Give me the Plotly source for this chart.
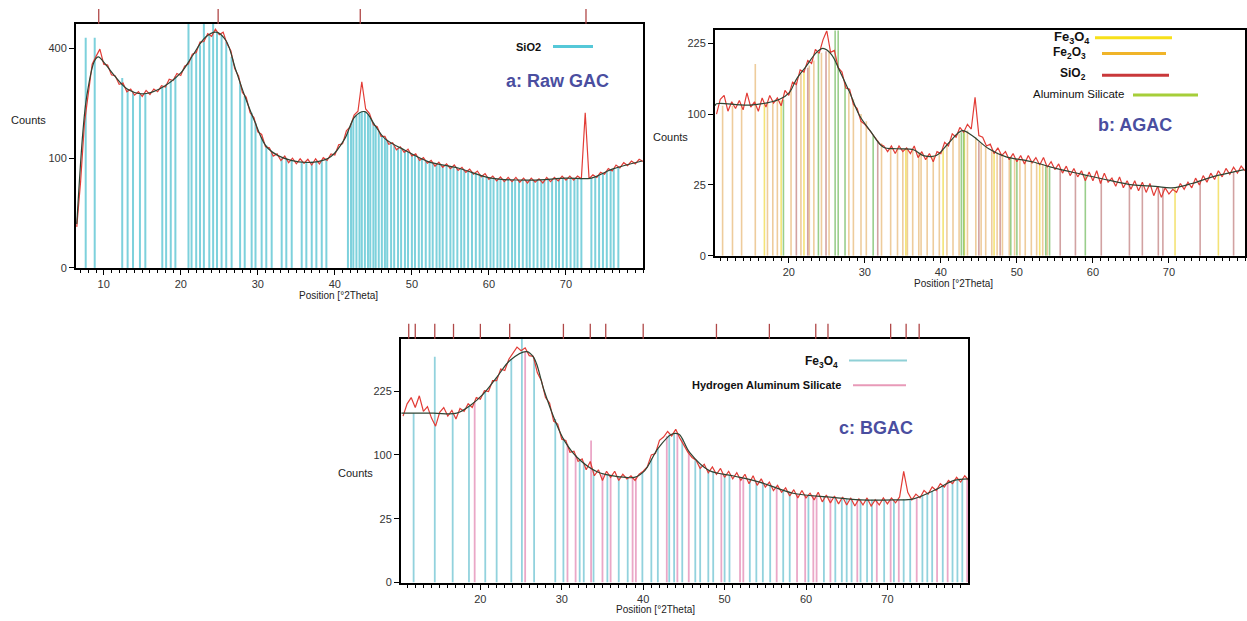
import numpy as np
import plotly.graph_objects as go

W, H = 1247, 621

# ---------------- a: Raw GAC ----------------
a_two_theta = np.arange(6.5, 80.01, 0.5)
a_counts = [14, 62, 175, 258, 345, 372, 398, 345, 342, 310, 306, 280, 284, 258, 266, 248,
            258, 244, 262, 250, 266, 258, 276, 272, 296, 292, 314, 308, 338, 346, 380, 386,
            424, 426, 456, 446, 474, 452, 462, 418, 392, 330, 306, 256, 242, 200, 188, 154,
            148, 122, 120, 104, 108, 96, 104, 92, 100, 90, 99, 91, 98, 88, 99, 90, 101, 96,
            108, 106, 126, 128, 156, 166, 194, 204, 288, 210, 198, 170, 166, 144, 144, 127,
            130, 116, 122, 111, 117, 104, 108, 96, 101, 91, 96, 86, 93, 84, 90, 82, 88, 79,
            84, 76, 81, 73, 78, 69, 74, 65, 70, 63, 69, 62, 68, 62, 68, 61, 67, 60, 67, 61,
            66, 60, 68, 62, 68, 63, 70, 64, 70, 64, 70, 66, 200, 66, 72, 68, 76, 73, 82, 78,
            88, 83, 92, 87, 95, 90, 98, 94]
a_bg_x = [6.5, 7.3, 7.8, 8.8, 9.3, 10, 11.2, 13, 15, 17.3, 20, 21.4, 23.2, 24.6, 25.9, 27.1,
          28.3, 29.6, 31.3, 34.3, 37.8, 39.5, 41.3, 42.6, 43.9, 45.2, 46.5, 49.1, 52.1, 56,
          60.3, 65.5, 70, 73.3, 76, 79.9]
a_bg_y = [16, 155, 246, 356, 370, 352, 313, 267, 252, 267, 316, 369, 442, 462, 428, 329,
          246, 178, 119, 96, 94, 103, 139, 190, 203, 169, 139, 115, 94, 83, 67, 64, 67, 67,
          81, 95]
a_sio2_pos = [7.66, 8.83, 12.4, 13.1, 13.8, 14.7, 15.4, 17.6, 18.1, 18.7, 19.3, 21.0, 21.4,
              22.0, 22.5, 23.0, 23.7, 24.2, 24.7, 25.3, 25.9, 26.6, 27.7, 28.3, 29.2, 29.7,
              30.5, 31.1, 31.8, 33.1, 33.7, 34.4, 35.7, 36.3, 37.0, 37.6, 38.3, 38.9,
              41.7, 42.1, 42.4, 42.8, 43.2, 43.5, 43.9, 44.3, 44.6, 45.0, 45.3, 45.7, 46.1,
              46.5, 46.8, 47.3, 47.7, 48.2, 48.6, 49.1, 49.5, 50.0, 50.4, 50.9, 51.3, 51.8,
              52.3, 52.7, 53.2, 53.6, 54.0, 54.5, 55.0, 55.4, 55.9, 56.4, 56.8, 57.3, 57.8,
              58.3, 58.8, 59.2, 59.7, 60.2, 60.6, 61.1, 61.5, 62.0, 62.5, 63.0, 63.4, 63.9,
              64.4, 64.9, 65.3, 65.8, 66.3, 66.8, 67.2, 67.7, 68.2, 68.7, 69.1, 69.6, 70.1,
              70.6, 71.1, 71.5, 72.0, 73.3, 73.8, 74.3, 74.8, 75.3, 75.8, 76.2, 76.8]
a_sio2_h = [440, 440, 300, 265, 258, 250, 252, 272, 280, 292, 305, 520, 370, 392, 412, 520,
            450, 520, 462, 450, 425, 370, 285, 246, 200, 175, 142, 125, 110, 100, 98, 96, 94,
            94, 94, 94, 95, 98,
            155, 172, 183, 193, 200, 203, 203, 196, 188, 175, 166, 155, 146, 139, 134, 127,
            123, 119, 117, 115, 112, 108, 105, 101, 98, 95, 93, 91, 90, 88, 87, 86, 85, 84,
            83, 82, 80, 79, 77, 75, 73, 71, 69, 67, 67, 66, 66, 65, 65, 65, 64, 64, 64, 64,
            64, 64, 64, 64, 64, 65, 65, 66, 66, 67, 67, 67, 67, 67, 67, 67, 69, 71, 74, 77,
            80, 82, 84]
a_top_marks = [9.35, 24.85, 43.3, 72.6]

# ---------------- b: AGAC ----------------
b_two_theta = np.arange(10.5, 80.01, 0.5)
b_counts = [100, 122, 128, 104, 118, 108, 120, 106, 132, 110, 118, 104, 124, 110, 128, 116,
            124, 112, 136, 128, 150, 146, 172, 168, 190, 184, 212, 204, 232, 252, 206, 210,
            176, 168, 140, 138, 114, 108, 90, 86, 80, 74, 68, 62, 60, 54, 60, 52, 60, 54, 58,
            52, 60, 48, 54, 46, 52, 44, 54, 52, 64, 60, 74, 70, 82, 76, 86, 80, 125, 72, 70,
            60, 62, 52, 58, 50, 54, 46, 52, 44, 50, 42, 50, 43, 48, 41, 48, 39, 44, 37, 42,
            34, 40, 32, 38, 31, 36, 28, 35, 28, 36, 26, 34, 27, 30, 24, 31, 23, 28, 22, 28,
            21, 27, 20, 26, 18, 24, 17, 23, 19, 22, 20, 26, 22, 27, 23, 30, 25, 32, 27, 34,
            29, 36, 31, 38, 33, 39, 34, 40, 36]
b_bg_x = [10.3, 10.5, 14.9, 18.8, 20.1, 21, 22.3, 23.6, 24.5, 25.6, 26.7, 28, 29.3, 30.7,
          32.4, 34.2, 36.4, 37.7, 39.4, 41, 42.8, 44.1, 46.3, 48.5, 52, 55.1, 58.6, 61.6,
          65.2, 68.2, 70.4, 73, 75.7, 79.9]
b_bg_y = [112, 115, 113, 122, 133, 155, 179, 205, 214, 202, 170, 133, 98, 78, 59, 57, 56, 50,
          50, 63, 78, 72, 57, 49, 44, 38, 33, 29, 25, 24, 23, 26, 31, 37]
b_fe2o3_pos = [11.3, 12.6, 13.8, 15.6, 17.2, 17.9, 18.5, 20.3, 21.6, 22.7, 23.3, 24.3, 25.3,
               27.9, 28.5, 29.5, 30.2, 32.2, 33.4, 34.3, 35.0, 35.6, 36.3, 37.1, 37.4, 38.2,
               39.0, 39.8, 40.8, 41.6, 42.4, 43.5, 44.6, 45.3, 45.9, 46.7, 47.4, 48.1, 49.0,
               49.7, 50.4, 51.1, 51.9, 52.6, 53.4, 54.0]
b_fe2o3_h = [112, 112, 113, 183, 116, 118, 120, 136, 165, 180, 190, 205, 210, 133, 122, 100,
             90, 63, 58, 57, 57, 57, 56, 53, 52, 50, 50, 52, 61, 68, 74, 78, 70, 63, 60, 56,
             53, 51, 48, 47, 46, 46, 44, 43, 42, 40]
b_fe3o4_pos = [16.8, 19.0, 22.0, 35.4, 40.3, 43.1, 47.0, 53.0, 70.8, 76.5]
b_fe3o4_h = [116, 120, 170, 57, 56, 78, 54, 42, 23, 32]
b_sio2_pos = [21.0, 22.5, 24.9, 31.7, 45.0, 47.8, 55.7, 57.7, 61.1, 64.8, 66.5, 68.6, 69.2,
              74.1, 78.5]
b_sio2_h = [150, 176, 208, 66, 65, 52, 37, 35, 29, 25, 24, 24, 23, 28, 35]
b_alsi_pos = [19.3, 23.9, 26.1, 26.5, 27.4, 31.1, 42.7, 43.0, 49.2, 50.0, 53.8, 54.3, 59.0]
b_alsi_h = [121, 205, 260, 260, 150, 72, 76, 77, 48, 47, 40, 39, 32]

# ---------------- c: BGAC ----------------
c_two_theta = np.arange(10.5, 80.01, 0.5)
c_counts = [170, 196, 210, 188, 214, 180, 190, 166, 150, 178, 188, 170, 182, 164, 186, 180,
            196, 188, 210, 206, 226, 224, 250, 250, 280, 276, 306, 322, 340, 330, 338, 316,
            314, 270, 250, 210, 198, 160, 154, 126, 124, 104, 106, 90, 94, 78, 90, 70, 78,
            64, 76, 68, 76, 64, 72, 66, 70, 64, 72, 76, 82, 100, 102, 124, 130, 140, 132,
            144, 128, 116, 104, 96, 92, 80, 86, 74, 82, 72, 80, 68, 76, 66, 74, 64, 72, 60,
            70, 58, 66, 56, 62, 52, 58, 50, 55, 46, 53, 44, 52, 44, 49, 42, 50, 40, 47, 39,
            46, 38, 45, 37, 44, 36, 43, 37, 44, 36, 42, 37, 44, 38, 44, 39, 45, 76, 50, 42,
            48, 44, 52, 48, 56, 52, 60, 56, 64, 60, 68, 62, 70, 64]
c_bg_x = [10.3, 14.2, 17.1, 18.8, 20.4, 22.1, 23.7, 25.7, 26.6, 27.8, 29.1, 30.3, 31.9, 34.4,
          36.9, 38.9, 40.2, 41.8, 43.5, 44.4, 45.7, 48.1, 51, 54.3, 58.4, 62.6, 66.7, 70.8,
          73.2, 75.7, 78.2, 79.9]
c_bg_y = [176, 176, 176, 193, 219, 261, 304, 327, 309, 228, 164, 124, 96, 75, 69, 68, 77, 110,
          135, 135, 104, 77, 70, 62, 49, 45, 42, 42, 43, 52, 64, 66]
c_fe3o4_pos = [11.8, 14.4, 16.6, 18.6, 20.6, 22.0, 23.8, 25.1, 26.6, 29.2, 30.2, 32.2, 32.7,
               33.9, 35.6, 37.0, 38.1, 39.9, 41.0, 41.8, 43.2, 43.8, 44.8, 46.4, 47.0, 48.0,
               48.6, 50.0, 50.6, 53.1, 53.9, 54.7, 55.6, 57.2, 58.0, 60.3, 62.2, 63.6, 64.4,
               65.0, 65.6, 66.7, 67.5, 68.1, 69.6, 70.8, 72.0, 72.8, 74.3, 74.9, 75.5, 76.8,
               78.0, 78.6, 79.2]
c_fe3o4_h = [176, 313, 176, 190, 222, 258, 306, 370, 310, 164, 128, 92, 88, 78, 72, 69, 68,
             74, 95, 110, 134, 135, 128, 92, 84, 78, 76, 72, 71, 65, 63, 61, 58, 52, 50, 47,
             45, 44, 43, 43, 42, 42, 42, 42, 42, 42, 43, 43, 47, 49, 51, 58, 62, 64, 65]
c_has_pos = [19.3, 25.5, 30.7, 31.7, 33.6, 35.0, 36.0, 38.7, 39.1, 42.9, 44.2, 45.6, 49.6,
             51.9, 52.3, 56.4, 58.9, 59.9, 60.9, 61.3, 63.0, 66.3, 68.7, 70.4, 71.4, 73.6,
             76.1, 77.4, 79.8]
c_has_h = [200, 327, 118, 100, 124, 72, 71, 68, 68, 132, 136, 106, 73, 67, 66, 54, 48, 47,
           46, 46, 44, 42, 42, 42, 42, 45, 55, 60, 66]
c_top_marks = [11.2, 12.0, 14.4, 16.7, 20.0, 23.6, 30.2, 33.5, 35.4, 40.0, 49.0, 55.5, 61.2,
               62.7, 70.4, 72.3, 73.9]

# ---------------- layout helpers ----------------
FONT = "Liberation Sans, Arial, sans-serif"
RED = "#e23c36"
BGLINE = "#2e4433"


def px(x):
    return x / W


def py(y):
    return 1 - y / H


def sticks(pos, h, color, xa, ya, width=1.6):
    xs, ys = [], []
    for p, v in zip(pos, h):
        xs += [p, p, None]
        ys += [0, np.sqrt(v), None]
    return go.Scatter(x=xs, y=ys, mode="lines", line=dict(color=color, width=width),
                      xaxis=xa, yaxis=ya, hoverinfo="skip")


fig = go.Figure()

panels = [
    dict(key="", xdom=[px(76), px(643)], ydom=[py(270.5), py(24)], xr=[6.4, 80], ytop=22.26,
         yticks=[0, 100, 400]),
    dict(key="2", xdom=[px(715), px(1245)], ydom=[py(258.3), py(30.7)], xr=[10.3, 80],
         ytop=15.9, yticks=[0, 25, 100, 225]),
    dict(key="3", xdom=[px(401), px(968)], ydom=[py(588.3), py(342)], xr=[10.25, 79.9],
         ytop=19.1, yticks=[0, 25, 100, 225]),
]

# panel a
fig.add_trace(sticks(a_sio2_pos, a_sio2_h, "rgba(70,190,205,0.7)", "x", "y", 2))
fig.add_trace(go.Scatter(x=a_two_theta, y=np.sqrt(a_counts), mode="lines",
                         line=dict(color=RED, width=1.2), xaxis="x", yaxis="y"))
fig.add_trace(go.Scatter(x=a_bg_x, y=np.sqrt(a_bg_y), mode="lines", line_shape="spline",
                         line=dict(color=BGLINE, width=1.2), xaxis="x", yaxis="y"))

# panel b
fig.add_trace(sticks(b_fe2o3_pos, b_fe2o3_h, "rgba(226,170,90,0.6)", "x2", "y2", 1.6))
fig.add_trace(sticks(b_fe3o4_pos, b_fe3o4_h, "rgba(240,215,60,0.7)", "x2", "y2", 1.6))
fig.add_trace(sticks(b_sio2_pos, b_sio2_h, "rgba(180,100,100,0.6)", "x2", "y2", 1.6))
fig.add_trace(sticks(b_alsi_pos, b_alsi_h, "rgba(110,185,90,0.7)", "x2", "y2", 1.6))
fig.add_trace(go.Scatter(x=b_two_theta, y=np.sqrt(b_counts), mode="lines",
                         line=dict(color=RED, width=1.2), xaxis="x2", yaxis="y2"))
fig.add_trace(go.Scatter(x=b_bg_x, y=np.sqrt(b_bg_y), mode="lines", line_shape="spline",
                         line=dict(color=BGLINE, width=1.2), xaxis="x2", yaxis="y2"))

# panel c
fig.add_trace(sticks(c_fe3o4_pos, c_fe3o4_h, "rgba(110,195,210,0.75)", "x3", "y3", 1.8))
fig.add_trace(sticks(c_has_pos, c_has_h, "rgba(225,130,175,0.7)", "x3", "y3", 1.8))
fig.add_trace(go.Scatter(x=c_two_theta, y=np.sqrt(c_counts), mode="lines",
                         line=dict(color=RED, width=1.2), xaxis="x3", yaxis="y3"))
fig.add_trace(go.Scatter(x=c_bg_x, y=np.sqrt(c_bg_y), mode="lines", line_shape="spline",
                         line=dict(color=BGLINE, width=1.2), xaxis="x3", yaxis="y3"))

axis_font = dict(family=FONT, size=11, color="#333")
for p in panels:
    k = p["key"]
    fig.update_layout({
        f"xaxis{k}": dict(domain=p["xdom"], range=p["xr"], anchor=f"y{k}",
                          tickvals=[10, 20, 30, 40, 50, 60, 70], ticks="outside", ticklen=5,
                          tickcolor="black", showline=True, mirror=True, linecolor="black",
                          linewidth=2, showgrid=False, zeroline=False, tickfont=axis_font,
                          minor=dict(dtick=1, tick0=0, ticks="outside", ticklen=3,
                                     tickcolor="black", showgrid=False)),
        f"yaxis{k}": dict(domain=p["ydom"], range=[0, p["ytop"]], anchor=f"x{k}",
                          tickvals=[np.sqrt(t) for t in p["yticks"]],
                          ticktext=[str(t) for t in p["yticks"]], ticks="outside", ticklen=5,
                          tickcolor="black", showline=True, mirror=True, linecolor="black",
                          linewidth=2, showgrid=False, zeroline=False, tickfont=axis_font),
    })

shapes = []
for pos in a_top_marks:
    shapes.append(dict(type="line", xref="x", yref="paper", x0=pos, x1=pos,
                       y0=py(24), y1=py(9), line=dict(color="#b04848", width=1.3)))
for pos in c_top_marks:
    shapes.append(dict(type="line", xref="x3", yref="paper", x0=pos, x1=pos,
                       y0=py(342), y1=py(327), line=dict(color="#b04848", width=1.3)))

# legend swatches
legend_lines = [
    (553, 593, 47, "#55c8d8", 3),
    (1095, 1172, 38, "#f7e01a", 3),
    (1102, 1166, 54, "#f0b429", 3),
    (1102, 1169, 76, "#c9383a", 3),
    (1133, 1198, 96, "#a6ce39", 3),
    (849, 907, 364, "#8fd0d6", 2),
    (853, 906, 389, "#e89ab8", 2),
]
for x0, x1, y, col, w in legend_lines:
    shapes.append(dict(type="line", xref="paper", yref="paper", x0=px(x0), x1=px(x1),
                       y0=py(y), y1=py(y), line=dict(color=col, width=w)))
fig.update_layout(shapes=shapes)

ann = []


def text(x, y, s, size=11, color="#222", xanchor="center", bold=False):
    if bold:
        s = f"<b>{s}</b>"
    ann.append(dict(x=px(x), y=py(y), xref="paper", yref="paper", text=s, showarrow=False,
                    xanchor=xanchor, yanchor="middle",
                    font=dict(family=FONT, size=size, color=color)))


text(28, 121, "Counts", 11)
text(338, 298, "Position [°2Theta]", 10)
text(670, 138, "Counts", 11)
text(953, 286, "Position [°2Theta]", 10)
text(355, 478, "Counts", 11)
text(655, 615, "Position [°2Theta]", 10)

TITLE = "#4a4ea0"
text(557, 82, "a: Raw GAC", 18, TITLE, bold=True)
text(1135, 126, "b: AGAC", 18, TITLE, bold=True)
text(876, 432, "c: BGAC", 18, TITLE, bold=True)

text(543, 47, "SiO2", 11, "#111", "right", True)
text(1092, 38, "Fe<sub>3</sub>O<sub>4</sub>", 13, "#111", "right", True)
text(1088, 54, "Fe<sub>2</sub>O<sub>3</sub>", 12, "#111", "right", True)
text(1088, 75, "SiO<sub>2</sub>", 12, "#111", "right", True)
text(1126, 95, "Aluminum Silicate", 11.5, "#111", "right")
text(840, 366, "Fe<sub>3</sub>O<sub>4</sub>", 12, "#111", "right", True)
text(843, 389, "Hydrogen Aluminum Silicate", 11, "#111", "right", True)
fig.update_layout(annotations=ann)

fig.update_layout(width=W, height=H, margin=dict(l=0, r=0, t=0, b=0), showlegend=False,
                  paper_bgcolor="white", plot_bgcolor="white")

fig.write_html("out.html")
